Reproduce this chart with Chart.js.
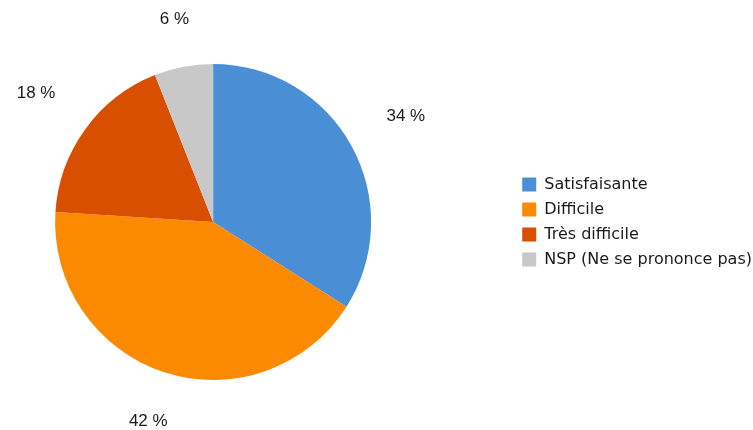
<!DOCTYPE html>
<html>
<head>
<meta charset="utf-8">
<script src="https://cdn.jsdelivr.net/npm/chart.js@4.4.1/dist/chart.umd.min.js"></script>
<style>
  html, body { margin: 0; padding: 0; background: #fff; }
  #wrap { width: 753px; height: 430px; position: relative; overflow: hidden; }
  /* 캔버스를 조금 넓게 잡고 왼쪽으로 밀어서 파이 중심을 맞춤 */
  #chart { position: absolute; left: -87px; top: 0; }
</style>
</head>
<body>
<div id="wrap"><canvas id="chart" width="849" height="430"></canvas></div>
<script>
// 데이터
const categories = ["Satisfaisante", "Difficile", "Très difficile", "NSP (Ne se prononce pas)"];
const values = [34, 42, 18, 6];
const colors = ["#4a8fd6", "#fb8a00", "#d84f00", "#c8c8c8"];

// 조각 바깥에 퍼센트 라벨
const pctLabels = {
  id: "pctLabels",
  afterDatasetsDraw(chart) {
    const { ctx } = chart;
    const meta = chart.getDatasetMeta(0);
    ctx.save();
    ctx.font = "17px 'Liberation Sans', Arial, sans-serif";
    ctx.fillStyle = "#1a1a1a";
    ctx.textAlign = "center";
    ctx.textBaseline = "middle";
    meta.data.forEach((arc, i) => {
      const txt = values[i] + " %";
      const w = ctx.measureText(txt).width;
      const mid = (arc.startAngle + arc.endAngle) / 2;
      const c = Math.cos(mid), s = Math.sin(mid);
      const d = arc.outerRadius + 44 + (w / 2) * Math.abs(c) + 2 * Math.abs(s);
      ctx.fillText(txt, arc.x + d * c, arc.y + d * s);
    });
    ctx.restore();
  }
};

new Chart(document.getElementById("chart"), {
  type: "pie",
  data: {
    labels: categories,
    datasets: [{ data: values, backgroundColor: colors, borderWidth: 0 }]
  },
  options: {
    responsive: false,
    animation: false,
    layout: { padding: { left: 0, top: 64, bottom: 50, right: 0 } },
    plugins: {
      legend: {
        position: "right",
        align: "center",
        labels: {
          boxWidth: 14, boxHeight: 14, padding: 9,
          color: "#1a1a1a",
          font: { family: "'DejaVu Sans', Verdana, sans-serif", size: 16 }
        }
      },
      tooltip: { enabled: false }
    }
  },
  plugins: [pctLabels]
});
</script>
</body>
</html>
